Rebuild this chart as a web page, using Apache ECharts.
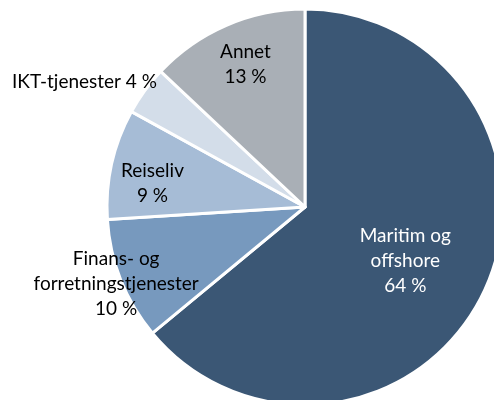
<!DOCTYPE html>
<html><head><meta charset="utf-8">
<script src="https://cdn.jsdelivr.net/npm/echarts@6/dist/echarts.min.js"></script>
<style>html,body{margin:0;padding:0;background:#fff}#c{width:494px;height:400px}</style>
</head><body><div id="c"></div>
<script>
const categories = ['Maritim og\noffshore', 'Finans- og\nforretningstjenester', 'Reiseliv', 'IKT-tjenester', 'Annet'];
const values = [64, 10, 9, 4, 13];
const percentLabels = ['64 %', '10 %', '9 %', '4 %', '13 %'];
const colors = ['#3b5775', '#7799be', '#a6bcd6', '#d3dde9', '#a9afb6'];
const textColors = ['#ffffff', '#000000', '#000000', '#000000', '#000000'];
const labelShift = [[8, 10], [-94, 39], [-53, -1], [-138, -65], [-19, -49]];
const singleLine = [false, false, false, true, false];

const chart = echarts.init(document.getElementById('c'), null, {renderer: 'canvas'});
chart.setOption({
  animation: false,
  series: [{
    type: 'pie',
    center: [305, 207],
    radius: [0, 198],
    startAngle: 90,
    clockwise: true,
    itemStyle: {borderColor: '#ffffff', borderWidth: 3},
    label: {
      show: true,
      position: 'inside',
      fontFamily: 'Lato',
      fontSize: 19,
      lineHeight: 25,
      align: 'center'
    },
    labelLine: {show: false},
    labelLayout: function (p) {
      return {dx: labelShift[p.dataIndex][0], dy: labelShift[p.dataIndex][1]};
    },
    data: categories.map((c, i) => ({
      name: c,
      value: values[i],
      itemStyle: {color: colors[i]},
      label: {
        color: textColors[i],
        formatter: singleLine[i] ? c + ' ' + percentLabels[i] : c + '\n' + percentLabels[i]
      }
    }))
  }]
});
</script></body></html>
